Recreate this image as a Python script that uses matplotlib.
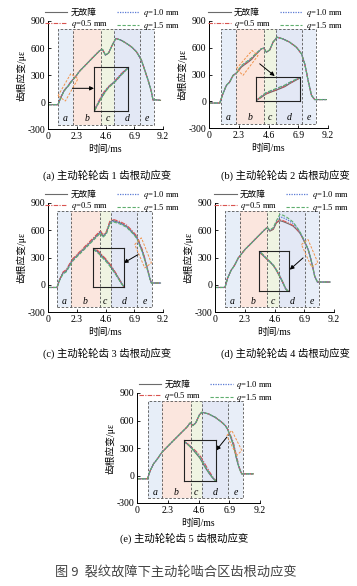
import matplotlib
matplotlib.use("Agg")
import matplotlib.pyplot as plt
from matplotlib.patches import Polygon, Rectangle

plt.rcParams["font.family"] = ["Liberation Serif", "Noto Sans CJK SC"]
plt.rcParams["mathtext.fontset"] = "stix"
plt.rcParams["axes.unicode_minus"] = False

# ---- data (time in ms, strain in micro-strain) ----
t_a = [0, 0.8, 0.9, 1.0, 1.1, 1.2, 1.3, 1.4, 1.5, 1.6, 1.7, 1.8, 1.9, 2.0, 2.14, 2.54, 3.07, 3.6,
       4.14, 4.35, 4.6, 4.85, 5.1, 5.42, 5.8, 6.27, 6.7, 7.07, 7.47, 7.87, 8.1, 8.27, 8.4, 8.6, 9.0]
base_a = [-30, -30, 5, 40, 70, 100, 125, 145, 160, 176, 195, 215, 232, 250, 270, 345, 420, 496,
          571, 585, 522, 545, 620, 705, 690, 652, 610, 559, 467, 300, 200, 115, 22, 25, 18]
q05_a = [-30, -30, 8, 46, 78, 108, 130, 148, 163, 180, 200, 220, 236, 252, 270, 345, 420, 496,
         571, 585, 522, 545, 620, 705, 690, 652, 610, 559, 467, 300, 200, 115, 22, 25, 18]
q10_a = [-30, -30, 6, 43, 74, 104, 128, 147, 162, 178, 197, 217, 234, 251, 270, 345, 420, 496,
         571, 585, 522, 545, 620, 705, 690, 652, 610, 559, 467, 300, 200, 115, 22, 25, 18]
q15_a = [-30, -30, 3, 37, 66, 96, 121, 142, 157, 173, 192, 212, 230, 249, 270, 345, 420, 496,
         571, 585, 522, 545, 620, 705, 690, 652, 610, 559, 467, 300, 200, 115, 22, 25, 18]

t_b = [0, 0.83, 1.08, 1.34, 1.6, 1.86, 2.12, 2.3, 2.5, 2.7, 2.9, 3.1, 3.3, 3.5, 3.7, 3.9,
       4.05, 4.23, 4.44, 4.7, 4.95, 5.26, 5.72, 6.24, 6.76, 7.15, 7.4, 7.53, 7.66, 7.92, 8.17, 9.08]
base_b = [-20, -20, 86, 178, 216, 290, 316, 345, 383, 405, 425, 447, 470, 505, 535, 565,
          588, 595, 551, 576, 662, 718, 699, 662, 606, 532, 420, 330, 234, 67, 19, 19]
q05_b = [-20, -20, 86, 178, 216, 290, 316, 348, 387, 410, 430, 452, 475, 509, 538, 566,
         588, 595, 551, 576, 662, 718, 699, 662, 606, 532, 420, 330, 234, 67, 19, 19]
q10_b = [-20, -20, 86, 178, 216, 290, 316, 355, 396, 420, 440, 462, 484, 516, 543, 568,
         588, 595, 551, 576, 662, 718, 699, 662, 606, 532, 420, 330, 234, 67, 19, 19]
q15_b = [-20, -20, 86, 178, 216, 290, 316, 357, 398, 422, 443, 465, 487, 518, 545, 569,
         588, 595, 551, 576, 662, 718, 699, 662, 606, 532, 420, 330, 234, 67, 19, 19]

t_c = [0, 0.72, 0.93, 1.2, 1.47, 1.74, 2.0, 2.4, 2.94, 3.47, 4.0, 4.19, 4.4, 4.67, 4.94, 5.15,
       5.74, 6.27, 6.8, 7.0, 7.12, 7.24, 7.34, 7.47, 7.6, 7.73, 7.87, 8.0, 8.14, 8.27, 9.0]
base_c = [-30, -30, 55, 130, 155, 221, 277, 332, 406, 480, 554, 583, 535, 572, 683, 708,
          683, 646, 572, 540, 517, 480, 443, 400, 351, 290, 221, 150, 74, 19, 19]
q05_c = [-30, -30, 58, 140, 168, 234, 290, 345, 420, 494, 568, 597, 548, 585, 697, 722,
         697, 660, 585, 553, 530, 494, 457, 413, 362, 300, 228, 155, 76, 19, 19]
q10_c = [-30, -30, 52, 125, 150, 216, 272, 327, 401, 475, 549, 578, 530, 567, 678, 703,
         678, 641, 567, 535, 511, 472, 434, 390, 340, 280, 213, 145, 72, 19, 19]
q15_c = [-30, -30, 48, 118, 143, 208, 264, 319, 393, 467, 541, 570, 522, 559, 670, 695,
         670, 634, 561, 528, 503, 465, 427, 383, 333, 274, 208, 140, 70, 19, 19]

t_d = [0, 0.77, 0.98, 1.23, 1.54, 1.8, 2.31, 2.83, 3.34, 3.86, 4.03, 4.24, 4.5, 4.76, 5.01, 5.27,
       5.53, 5.78, 6.04, 6.3, 6.55, 6.72, 6.89, 7.05, 7.2, 7.33, 7.45, 7.58, 7.71, 7.92, 8.9]
base_d = [-30, -30, 74, 155, 221, 295, 387, 461, 535, 609, 628, 590, 609, 683, 705, 695,
          680, 665, 646, 610, 572, 530, 480, 435, 387, 325, 258, 180, 92, 30, 30]
q05_d = [-30, -30, 74, 155, 221, 295, 387, 461, 535, 609, 630, 594, 614, 690, 715, 705,
         690, 672, 652, 614, 574, 531, 481, 436, 388, 325, 258, 180, 92, 30, 30]
q10_d = [-30, -30, 74, 155, 221, 295, 387, 461, 535, 609, 632, 598, 622, 700, 748, 738,
         720, 700, 675, 630, 582, 537, 484, 438, 389, 326, 258, 180, 92, 30, 30]
q15_d = [-30, -30, 74, 155, 221, 295, 387, 461, 535, 609, 634, 602, 628, 708, 775, 765,
         745, 720, 690, 640, 588, 541, 487, 440, 390, 327, 259, 180, 92, 30, 30]

t_e = [0, 0.79, 0.99, 1.24, 1.49, 1.87, 2.24, 2.73, 3.23, 3.73, 3.98, 4.18, 4.4, 4.67, 4.85,
       5.34, 5.84, 6.34, 6.6, 6.76, 6.86, 6.96, 7.08, 7.21, 7.31, 7.41, 7.53, 7.66, 7.83, 8.7]
base_e = [-36, -36, 55, 128, 174, 254, 309, 382, 455, 527, 575, 545, 575, 662, 690,
          673, 636, 581, 545, 509, 475, 436, 385, 327, 265, 200, 135, 73, 18, 18]
q05_e = [-36, -36, 55, 128, 174, 254, 309, 382, 455, 527, 575, 545, 575, 662, 690,
         673, 636, 581, 545, 512, 482, 450, 410, 360, 300, 235, 160, 85, 18, 18]
q10_e = [-36, -36, 55, 128, 174, 254, 309, 382, 455, 527, 575, 545, 575, 662, 690,
         673, 636, 581, 545, 510, 478, 442, 396, 342, 282, 214, 145, 78, 18, 18]
q15_e = [-36, -36, 55, 128, 174, 254, 309, 382, 455, 527, 575, 545, 575, 662, 690,
         673, 636, 581, 545, 509, 476, 439, 390, 334, 273, 207, 140, 75, 18, 18]

# meshing-region boundaries a|b|c|d|e for each panel
bounds_a = [0.8, 2.0, 4.27, 5.28, 7.34, 8.46]
bounds_b = [0.9, 2.06, 4.25, 5.2, 7.21, 8.29]
bounds_c = [0.72, 1.82, 4.14, 5.02, 7.14, 8.29]
bounds_d = [0.77, 1.93, 4.03, 4.96, 6.94, 8.02]
bounds_e = [0.79, 1.87, 4.03, 4.85, 6.84, 7.91]

# orange highlight box corners (t, strain)
mark_a = [(0.8, 68), (1.82, 314), (2.4, 258), (1.39, 11)]
mark_b = [(2.12, 365), (3.33, 569), (3.79, 513), (2.63, 290)]
mark_c = [(6.94, 443), (7.47, 517), (8.27, 240), (7.74, 185)]
mark_d = [(6.68, 443), (7.19, 498), (7.96, 240), (7.46, 196)]
mark_e = [(6.72, 436), (7.09, 491), (7.84, 273), (7.46, 218)]

# zoom window shown in the inset: (t0, t1, s0, s1)
window_a = (0.85, 2.05, -10, 265)
window_b = (2.1, 3.95, 300, 580)
window_c = (6.95, 8.2, 40, 560)
window_d = (6.6, 7.85, 60, 580)
window_e = (6.7, 7.75, 50, 540)

# inset placement in main data coords: (t, strain, width, height)
inset_a = (3.68, -102, 2.72, 493)
inset_b = (3.67, 0, 3.4, 272)
inset_c = (3.6, -25, 2.46, 431)
inset_d = (3.42, -74, 2.31, 450)
inset_e = (3.55, -55, 2.35, 437)

# arrow from highlight to inset: (t0, s0, t1, s1)
arrow_a = (1.95, 152, 3.68, 152)
arrow_b = (3.92, 420, 5.08, 283)
arrow_c = (7.2, 332, 6.06, 240)
arrow_d = (6.81, 296, 5.78, 166)
arrow_e = (6.72, 418, 5.92, 273)

captions = [
    "(a) 主动轮轮齿 1 齿根动应变",
    "(b) 主动轮轮齿 2 齿根动应变",
    "(c) 主动轮轮齿 3 齿根动应变",
    "(d) 主动轮轮齿 4 齿根动应变",
    "(e) 主动轮轮齿 5 齿根动应变",
]
region_names = ["a", "b", "c", "d", "e"]
region_colors = ["#e7eef8", "#fbe6de", "#eff4e2", "#e3e8f5", "#e8eef8"]
x_ticks = [0, 2.3, 4.6, 6.9, 9.2]
y_ticks = [-300, 0, 300, 600, 900]

series_labels = ["无故障", "$q$=0.5 mm", "$q$=1.0 mm", "$q$=1.5 mm"]
series_styles = [
    dict(color="#6b6b6b", ls="-", lw=0.8),
    dict(color="#d9534f", ls=(0, (4, 1.2, 1, 1.2)), lw=0.8),
    dict(color="#5b7bd5", ls=(0, (1, 1)), lw=0.9),
    dict(color="#5fae6e", ls=(0, (3, 1.5)), lw=0.8),
]


def plot_series(ax, t, series, lw_scale=1.0):
    handles = []
    for values, label, style in zip(series, series_labels, series_styles):
        st = dict(style)
        st["lw"] = style["lw"] * lw_scale
        (h,) = ax.plot(t, values, label=label, **st)
        handles.append(h)
    return handles


def draw_panel(fig, rect, t, series, bounds, mark, window, inset, arrow):
    ax = fig.add_axes(rect)
    ax.set_xlim(0, 9.2)
    ax.set_ylim(-300, 900)

    box_lo, box_hi = -250, 810
    for i, name in enumerate(region_names):
        ax.axvspan(bounds[i], bounds[i + 1], ymin=(box_lo + 300) / 1200,
                   ymax=(box_hi + 300) / 1200, color=region_colors[i], lw=0, zorder=0)
        ax.text((bounds[i] + bounds[i + 1]) / 2, -185, name, style="italic",
                ha="center", va="center", fontsize=7)
    ax.add_patch(Rectangle((bounds[0], box_lo), bounds[-1] - bounds[0], box_hi - box_lo,
                           fill=False, ls=(0, (3, 2)), lw=0.6, ec="#555555", zorder=1))
    for b in bounds[1:-1]:
        ax.plot([b, b], [box_lo, box_hi], ls=(0, (3, 2)), lw=0.6, color="#555555", zorder=1)

    handles = plot_series(ax, t, series)

    ax.add_patch(Polygon(mark, closed=True, fill=False, ec="#f0924a",
                         ls=(0, (2.5, 1.5)), lw=0.7, zorder=3))

    ins = ax.inset_axes(list(inset), transform=ax.transData)
    plot_series(ins, t, series, lw_scale=1.1)
    ins.set_xlim(window[0], window[1])
    ins.set_ylim(window[2], window[3])
    ins.set_xticks([])
    ins.set_yticks([])
    ins.patch.set_alpha(0)
    for sp in ins.spines.values():
        sp.set_linewidth(0.8)
        sp.set_color("#222222")

    ax.annotate("", xy=(arrow[2], arrow[3]), xytext=(arrow[0], arrow[1]),
                arrowprops=dict(arrowstyle="-|>", color="black", lw=0.7,
                                mutation_scale=6, shrinkA=0, shrinkB=0))

    ax.spines["top"].set_visible(False)
    ax.spines["right"].set_visible(False)
    for sp in ("left", "bottom"):
        ax.spines[sp].set_linewidth(0.7)
    ax.set_xticks(x_ticks)
    ax.set_xticklabels(["0", "2.3", "4.6", "6.9", "9.2"])
    ax.set_yticks(y_ticks)
    ax.tick_params(direction="in", length=2.5, width=0.6, labelsize=7, pad=2)
    ax.set_xlabel("时间/ms", fontsize=7, labelpad=3)
    ax.set_ylabel("齿根应变/με", fontsize=7, labelpad=1)

    leg = ax.legend(handles, series_labels, ncol=2, frameon=False, fontsize=6.2,
                    loc="center", bbox_to_anchor=(0.56, 1.015), handlelength=2.6,
                    labelspacing=0.1, columnspacing=1.0, handletextpad=0.4,
                    borderpad=0)
    leg.set_zorder(5)
    return ax


fig = plt.figure(figsize=(3.57, 5.86), dpi=100)
W, H = 357, 586


def frac(x0, x1, y_top, y_bot):
    return [x0 / W, 1 - y_bot / H, (x1 - x0) / W, (y_bot - y_top) / H]


panels = [
    (frac(48, 163, 21, 129), t_a, [base_a, q05_a, q10_a, q15_a], bounds_a, mark_a, window_a, inset_a, arrow_a),
    (frac(209, 328, 21, 128), t_b, [base_b, q05_b, q10_b, q15_b], bounds_b, mark_b, window_b, inset_b, arrow_b),
    (frac(48, 163, 203, 312), t_c, [base_c, q05_c, q10_c, q15_c], bounds_c, mark_c, window_c, inset_c, arrow_c),
    (frac(215, 334, 203, 312), t_d, [base_d, q05_d, q10_d, q15_d], bounds_d, mark_d, window_d, inset_d, arrow_d),
    (frac(137, 260, 393, 503), t_e, [base_e, q05_e, q10_e, q15_e], bounds_e, mark_e, window_e, inset_e, arrow_e),
]
for p in panels:
    draw_panel(fig, *p)

caption_pos = [(107, 175), (285, 175), (107, 353), (285, 353), (184, 538)]
for text, (cx, cy) in zip(captions, caption_pos):
    fig.text(cx / W, 1 - cy / H, text, ha="center", va="center", fontsize=7.5)

fig.text(176 / W, 1 - 572 / H, "图 9  裂纹故障下主动轮啮合区齿根动应变", ha="center",
         va="center", fontsize=9.5, color="#444444", family=["Noto Sans CJK SC", "DejaVu Sans"])

fig.savefig("out.png", dpi=100)
